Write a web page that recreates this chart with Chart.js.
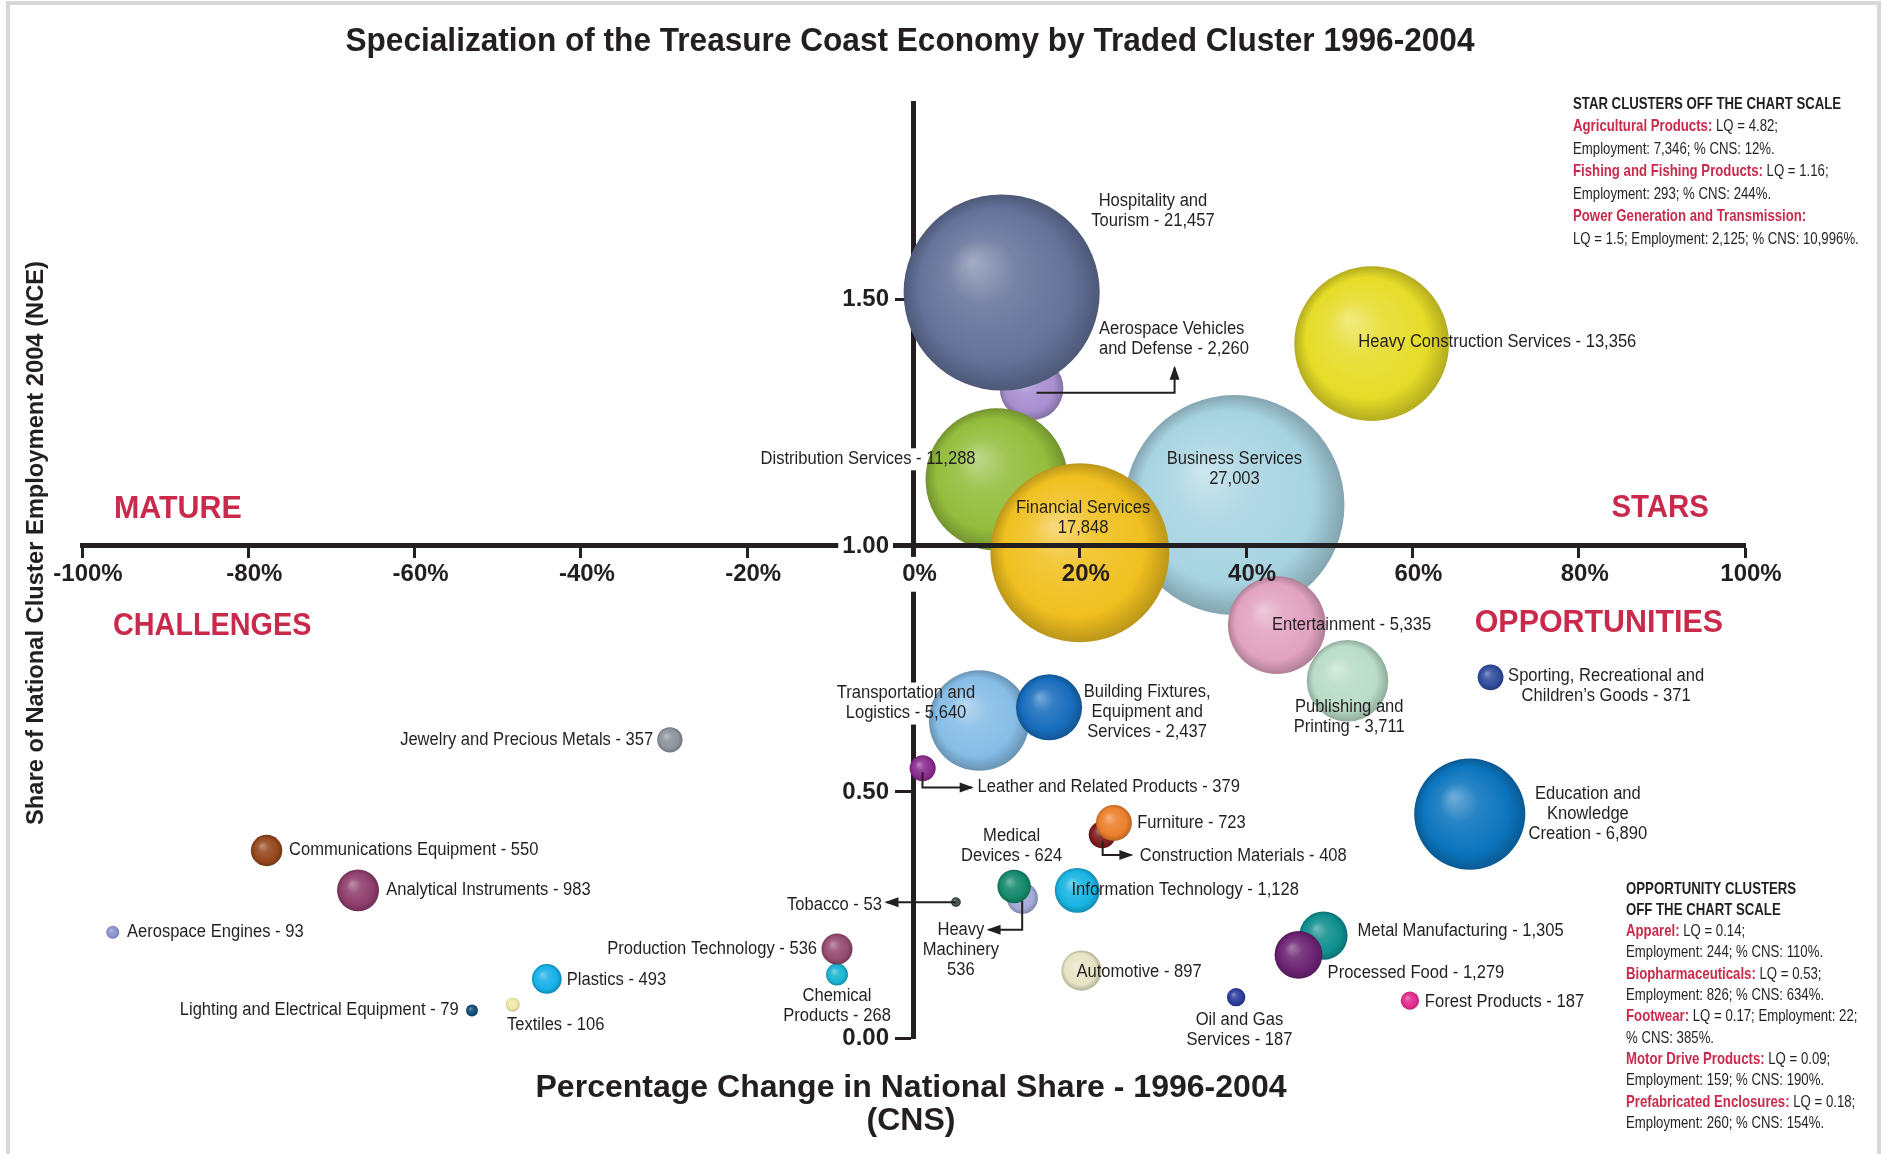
<!DOCTYPE html>
<html>
<head>
<meta charset="utf-8">
<title>Specialization of the Treasure Coast Economy by Traded Cluster 1996-2004</title>
<script src="https://cdn.jsdelivr.net/npm/chart.js@4.4.1/dist/chart.umd.min.js"></script>
<style>
  html, body { margin: 0; padding: 0; background: #fff; }
  #wrap { width: 1887px; height: 1154px; }
</style>
</head>
<body>
<div id="wrap"><canvas id="chart" width="1887" height="1154"></canvas></div>
<script>
// clusters, listed back to front (later ones are painted on top)
const clusters = [
  'Aerospace Vehicles and Defense', 'Hospitality and Tourism', 'Heavy Construction Services',
  'Distribution Services', 'Business Services', 'Financial Services', 'Entertainment',
  'Publishing and Printing', 'Sporting, Recreational and Children\u2019s Goods',
  'Transportation and Logistics', 'Building Fixtures, Equipment and Services',
  'Jewelry and Precious Metals', 'Leather and Related Products', 'Education and Knowledge Creation',
  'Construction Materials', 'Furniture', 'Communications Equipment', 'Analytical Instruments',
  'Heavy Machinery', 'Medical Devices', 'Information Technology', 'Tobacco', 'Aerospace Engines',
  'Metal Manufacturing', 'Processed Food', 'Chemical Products', 'Production Technology',
  'Plastics', 'Automotive', 'Lighting and Electrical Equipment', 'Textiles',
  'Oil and Gas Services', 'Forest Products'
];
// % change in national share 1996-2004 (CNS)
const cnsChange = [
  14.2, 10.6, 55.1, 10.0, 38.6, 20.0, 43.7, 52.2, 69.4, 7.9, 16.3, -29.3, 1.1, 66.9,
  22.7, 24.1, -77.8, -66.8, 13.1, 12.1, 19.7, 5.1, -96.3, 49.3, 46.3, -9.2, -9.2,
  -44.1, 20.2, -53.1, -48.2, 38.8, 59.7
];
// share of national cluster employment 2004 (NCE)
const nceShare = [
  1.32, 1.515, 1.411, 1.135, 1.083, 0.986, 0.839, 0.726, 0.733, 0.645, 0.672, 0.606, 0.548, 0.455,
  0.413, 0.437, 0.381, 0.300, 0.284, 0.308, 0.300, 0.276, 0.215, 0.208, 0.169, 0.129, 0.181,
  0.120, 0.137, 0.056, 0.068, 0.083, 0.076
];
const employment = [
  2260, 21457, 13356, 11288, 27003, 17848, 5335, 3711, 371, 5640, 2437, 357, 379, 6890,
  408, 723, 550, 983, 536, 624, 1128, 53, 93, 1305, 1279, 268, 536,
  493, 897, 79, 106, 187, 187
];
const xTickValues = [-100, -80, -60, -40, -20, 0, 20, 40, 60, 80, 100];
const yTickValues = [0, 0.5, 1, 1.5];

const bubbleColors = [
  '#a88fd0', '#64729a', '#e6dc28', '#93bd3c', '#a8d4e2', '#f0c020', '#e2a3c0', '#b9dcc8',
  '#2f4c9c', '#86bde6', '#176cbc', '#8c939c', '#8a2b8e', '#0b74bd', '#7c1c1c', '#ec7f2c',
  '#94461c', '#8f3e6c', '#a3aad9', '#14896c', '#18b4e2', '#3d4b4a', '#8a92ce', '#0f8f8f',
  '#6b2272', '#1ab4d0', '#954b70', '#16b0e8', '#e6e3c4', '#0e4b76', '#eee7a4', '#2b3b9c', '#e22a8c'
];

// label text per cluster, as printed on the chart
const labelLines = [
  ['Aerospace Vehicles', 'and Defense - 2,260'], ['Hospitality and', 'Tourism - 21,457'],
  ['Heavy Construction Services - 13,356'], ['Distribution Services - 11,288'],
  ['Business Services', '27,003'], ['Financial Services', '17,848'], ['Entertainment - 5,335'],
  ['Publishing and', 'Printing - 3,711'], ['Sporting, Recreational and', 'Children\u2019s Goods - 371'],
  ['Transportation and', 'Logistics - 5,640'], ['Building Fixtures,', 'Equipment and', 'Services - 2,437'],
  ['Jewelry and Precious Metals - 357'], ['Leather and Related Products - 379'],
  ['Education and', 'Knowledge', 'Creation - 6,890'], ['Construction Materials - 408'],
  ['Furniture - 723'], ['Communications Equipment - 550'], ['Analytical Instruments - 983'],
  ['Heavy', 'Machinery', '536'], ['Medical', 'Devices - 624'], ['Information Technology - 1,128'],
  ['Tobacco - 53'], ['Aerospace Engines - 93'], ['Metal Manufacturing - 1,305'],
  ['Processed Food - 1,279'], ['Chemical', 'Products - 268'], ['Production Technology - 536'],
  ['Plastics - 493'], ['Automotive - 897'], ['Lighting and Electrical Equipment - 79'],
  ['Textiles - 106'], ['Oil and Gas', 'Services - 187'], ['Forest Products - 187']
];
// where each label sits, in chart units: [cns, nce, align, cuts the vertical axis]
const labelSpots = [
  [22.3, 1.441, 'left'], [28.8, 1.700, 'center'], [53.5, 1.414, 'left'], [-18.4, 1.176, 'left', true],
  [38.6, 1.176, 'center'], [20.4, 1.076, 'center'], [43.1, 0.839, 'left'], [52.4, 0.672, 'center'],
  [83.3, 0.736, 'center'], [-0.9, 0.700, 'center', true], [28.1, 0.704, 'center'],
  [-31.3, 0.606, 'right'], [7.7, 0.511, 'left'], [81.1, 0.496, 'center'], [27.2, 0.369, 'left'],
  [26.9, 0.437, 'left'], [-75.1, 0.381, 'left'], [-63.4, 0.301, 'left'], [5.7, 0.220, 'center'],
  [11.8, 0.411, 'center'], [19.0, 0.301, 'left'], [-3.8, 0.271, 'right'], [-94.6, 0.215, 'left'],
  [53.4, 0.217, 'left'], [49.8, 0.132, 'left'], [-9.2, 0.085, 'center'], [-11.6, 0.181, 'right'],
  [-41.7, 0.117, 'left'], [19.6, 0.134, 'left'], [-54.7, 0.056, 'right'], [-48.9, 0.027, 'left'],
  [39.2, 0.036, 'center'], [61.5, 0.073, 'left']
];
// leader arrows, chart units, arrow head at the last point
const pointers = [
  [[14.8, 1.311], [31.4, 1.311], [31.4, 1.362]],
  [[1.08, 0.540], [1.08, 0.509], [7.0, 0.509]],
  [[22.75, 0.401], [22.75, 0.372], [26.2, 0.372]],
  [[5.13, 0.276], [-3.25, 0.276]],
  [[13.07, 0.279], [13.07, 0.220], [9.03, 0.220]]
];

const starNotes = [
  [['STAR CLUSTERS OFF THE CHART SCALE', 'h']],
  [['Agricultural Products:', 'r'], [' LQ = 4.82;', '']],
  [['Employment: 7,346; % CNS: 12%.', '']],
  [['Fishing and Fishing Products:', 'r'], [' LQ = 1.16;', '']],
  [['Employment: 293; % CNS: 244%.', '']],
  [['Power Generation and Transmission:', 'r']],
  [['LQ = 1.5; Employment: 2,125; % CNS: 10,996%.', '']]
];
const oppNotes = [
  [['OPPORTUNITY CLUSTERS', 'h']],
  [['OFF THE CHART SCALE', 'h']],
  [['Apparel:', 'r'], [' LQ = 0.14;', '']],
  [['Employment: 244; % CNS: 110%.', '']],
  [['Biopharmaceuticals:', 'r'], [' LQ = 0.53;', '']],
  [['Employment: 826; % CNS: 634%.', '']],
  [['Footwear:', 'r'], [' LQ = 0.17; Employment: 22;', '']],
  [['% CNS: 385%.', '']],
  [['Motor Drive Products:', 'r'], [' LQ = 0.09;', '']],
  [['Employment: 159; % CNS: 190%.', '']],
  [['Prefabricated Enclosures:', 'r'], [' LQ = 0.18;', '']],
  [['Employment: 260; % CNS: 154%.', '']]
];

const ink = '#231f20';
const red = '#c92a4c';
const FAM = "'Liberation Sans', Arial, sans-serif";

function bubbleRadius(e) { return 0.6694 * Math.sqrt(e); }

function mix(hex, to, t) {
  const a = parseInt(hex.slice(1), 16), b = parseInt(to.slice(1), 16);
  const ch = (v, s) => (v >> s) & 255;
  const m = s => Math.round(ch(a, s) + (ch(b, s) - ch(a, s)) * t);
  return 'rgb(' + m(16) + ',' + m(8) + ',' + m(0) + ')';
}

function ball(c) {
  const i = c.dataIndex;
  if (c.type !== 'data' || i === undefined) return '#999';
  const chart = c.chart, xs = chart.scales.x, ys = chart.scales.y;
  const base = bubbleColors[i];
  if (!chart.chartArea || !xs || !ys) return base;
  const px = xs.getPixelForValue(cnsChange[i]), py = ys.getPixelForValue(nceShare[i]);
  const r = bubbleRadius(employment[i]);
  if (!isFinite(px) || !isFinite(py)) return base;
  const g = chart.ctx.createRadialGradient(px - r * 0.3, py - r * 0.32, 0, px, py, r);
  g.addColorStop(0, mix(base, '#ffffff', 0.42));
  g.addColorStop(0.35, mix(base, '#ffffff', 0.12));
  g.addColorStop(0.78, base);
  g.addColorStop(1, mix(base, '#000000', 0.22));
  return g;
}

function text(ctx, s, x, y, font, color, align, sx) {
  ctx.save();
  ctx.font = font;
  ctx.fillStyle = color;
  ctx.textBaseline = 'middle';
  ctx.textAlign = align;
  ctx.translate(x, y);
  ctx.scale(sx, 1);
  ctx.fillText(s, 0, 0);
  ctx.restore();
}

function fitText(ctx, s, x, y, font, width, color) {
  ctx.save();
  ctx.font = font;
  const sx = width / ctx.measureText(s).width;
  ctx.restore();
  text(ctx, s, x, y, font, color, 'center', sx);
  return sx;
}

function notes(ctx, rows, x, y0, step) {
  const sx = 0.8;
  rows.forEach((row, k) => {
    let x0 = x;
    const y = y0 + k * step;
    row.forEach(([s, kind]) => {
      const font = (kind ? 'bold ' : '') + '16.5px ' + FAM;
      text(ctx, s, x0, y, font, kind === 'r' ? red : ink, 'left', sx);
      ctx.save(); ctx.font = font; x0 += ctx.measureText(s).width * sx; ctx.restore();
    });
  });
}

const LABEL_FONT = '18px ' + FAM;
const LABEL_SX = 0.92;
const LINE_H = 20;
const Y_TICK_LEN = 16;

const decor = {
  id: 'decor',
  beforeDraw(chart) {
    const ctx = chart.ctx;
    ctx.save();
    ctx.fillStyle = '#fff';
    ctx.fillRect(0, 0, chart.width, chart.height);
    ctx.strokeStyle = '#d8d8d8';
    ctx.lineWidth = 4;
    ctx.beginPath();
    ctx.moveTo(8, chart.height); ctx.lineTo(8, 3); ctx.lineTo(1879, 3); ctx.lineTo(1879, chart.height);
    ctx.stroke();
    ctx.restore();

    // a y axis pinned to x = 0 puts its labels right against the line; move them off past the ticks
    // (the backdrop is drawn relative to the translation, so it follows by itself)
    const items = chart.scales.y.getLabelItems();
    if (!items._moved) {
      const d = 2.5 + Y_TICK_LEN + 6;
      items.forEach(it => { it.options.translation[0] -= d; });
      items._moved = true;
    }
  },
  beforeDatasetsDraw(chart) {
    // labels that cross the vertical axis cut a gap in it
    const ctx = chart.ctx, xs = chart.scales.x, ys = chart.scales.y;
    const ax = xs.getPixelForValue(0);
    ctx.save();
    ctx.fillStyle = '#fff';
    labelSpots.forEach((sp, i) => {
      if (!sp[3]) return;
      const y = ys.getPixelForValue(sp[1]);
      const n = labelLines[i].length;
      ctx.fillRect(ax - 6, y - 11, 12, (n - 1) * LINE_H + 22);
    });
    ctx.restore();
  },
  afterDraw(chart) {
    const ctx = chart.ctx, xs = chart.scales.x, ys = chart.scales.y;

    fitText(ctx, 'Specialization of the Treasure Coast Economy by Traded Cluster 1996-2004',
      910, 42, 'bold 34px ' + FAM, 1129, ink);
    const sx = fitText(ctx, 'Percentage Change in National Share - 1996-2004', 911, 1088, 'bold 31px ' + FAM, 751, ink);
    text(ctx, '(CNS)', 911, 1121, 'bold 31px ' + FAM, ink, 'center', sx);

    ctx.save();
    ctx.translate(37, 543);
    ctx.rotate(-Math.PI / 2);
    fitText(ctx, 'Share of National Cluster Employment 2004 (NCE)', 0, 0, 'bold 23px ' + FAM, 564, ink);
    ctx.restore();

    const qf = 'bold 32px ' + FAM;
    text(ctx, 'MATURE', 114, 509, qf, red, 'left', 0.95);
    text(ctx, 'STARS', 1709, 508, qf, red, 'right', 0.92);
    text(ctx, 'CHALLENGES', 113, 626, qf, red, 'left', 0.9);
    text(ctx, 'OPPORTUNITIES', 1723, 623, qf, red, 'right', 0.95);

    notes(ctx, starNotes, 1573, 104, 22.5);
    notes(ctx, oppNotes, 1626, 889, 21.3);

    // leader arrows
    ctx.save();
    ctx.strokeStyle = ink; ctx.fillStyle = ink; ctx.lineWidth = 2;
    pointers.forEach(path => {
      const pts = path.map(p => [xs.getPixelForValue(p[0]), ys.getPixelForValue(p[1])]);
      ctx.beginPath();
      pts.forEach((p, k) => k ? ctx.lineTo(p[0], p[1]) : ctx.moveTo(p[0], p[1]));
      ctx.stroke();
      const [a, b] = pts.slice(-2);
      const ang = Math.atan2(b[1] - a[1], b[0] - a[0]);
      ctx.save();
      ctx.translate(b[0], b[1]); ctx.rotate(ang);
      ctx.beginPath(); ctx.moveTo(2, 0); ctx.lineTo(-12, -5); ctx.lineTo(-12, 5); ctx.closePath(); ctx.fill();
      ctx.restore();
    });
    ctx.restore();

    labelSpots.forEach((sp, i) => {
      const x = xs.getPixelForValue(sp[0]), y = ys.getPixelForValue(sp[1]);
      labelLines[i].forEach((s, k) => text(ctx, s, x, y + k * LINE_H, LABEL_FONT, ink, sp[2], LABEL_SX));
    });
  }
};

// centred axes should not push the plot area around with their label overhang
function noOverhang(scale) {
  scale.paddingLeft = 0; scale.paddingRight = 0; scale.paddingTop = 0; scale.paddingBottom = 0;
}

new Chart(document.getElementById('chart'), {
  type: 'bubble',
  data: {
    datasets: [{
      label: 'Traded clusters',
      data: clusters.map((name, i) => ({ x: cnsChange[i], y: nceShare[i], r: bubbleRadius(employment[i]) })),
      backgroundColor: ball,
      borderWidth: 0,
      hoverBorderWidth: 0,
      hoverRadius: 0
    }]
  },
  options: {
    responsive: false,
    devicePixelRatio: 1,
    animation: false,
    events: [],
    layout: { autoPadding: false, padding: { left: 82, right: 142, top: 103, bottom: 116 } },
    plugins: { legend: { display: false }, tooltip: { enabled: false } },
    scales: {
      x: {
        type: 'linear',
        position: { y: 1 },
        min: -100,
        max: 100,
        afterBuildTicks: s => { s.ticks = xTickValues.map(v => ({ value: v })); },
        afterFit: noOverhang,
        grid: { drawOnChartArea: false, drawTicks: true, tickLength: 10, tickWidth: 3, tickColor: ink, z: 1 },
        border: { width: 5, color: ink, z: 1 },
        ticks: {
          z: 1,
          color: ink,
          font: { family: FAM, weight: 'bold', size: 24 },
          padding: 4,
          labelOffset: 6,
          maxRotation: 0,
          autoSkip: false,
          callback: v => v + '%',
          showLabelBackdrop: true,
          backdropColor: c => (c.tick && c.tick.value === 0 ? '#ffffff' : 'rgba(0,0,0,0)'),
          backdropPadding: 3
        }
      },
      y: {
        type: 'linear',
        position: { x: 0 },
        min: 0,
        max: 1.9,
        afterBuildTicks: s => { s.ticks = yTickValues.map(v => ({ value: v })); },
        afterFit: noOverhang,
        grid: { drawOnChartArea: false, drawTicks: true, tickLength: Y_TICK_LEN, tickWidth: 3, tickColor: ink, z: -1 },
        border: { width: 5, color: ink, z: -1 },
        ticks: {
          z: 2,
          color: ink,
          font: { family: FAM, weight: 'bold', size: 24 },
          padding: 5,
          callback: v => v.toFixed(2),
          showLabelBackdrop: true,
          backdropColor: '#ffffff',
          backdropPadding: 4
        }
      }
    }
  },
  plugins: [decor]
});
</script>
</body>
</html>
